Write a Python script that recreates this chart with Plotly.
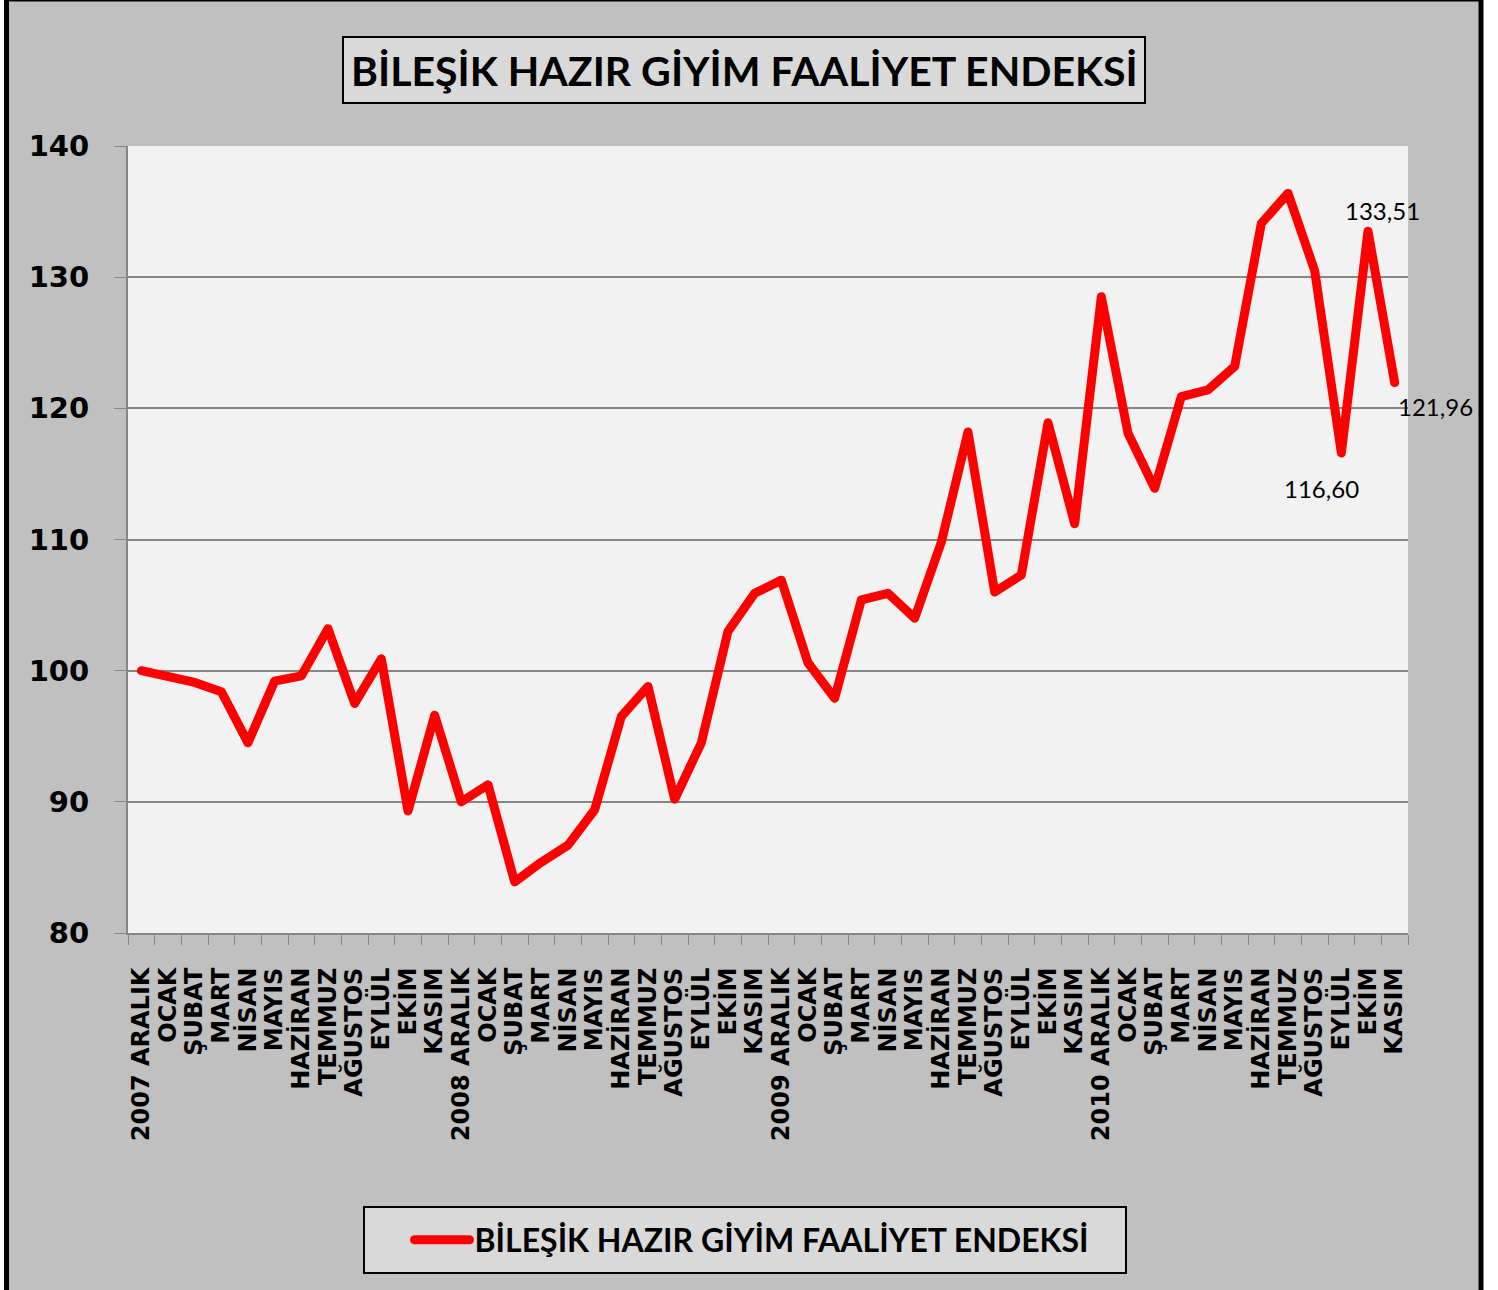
import plotly.graph_objects as go

# ---------------- data ----------------
months = ["ARALIK", "OCAK", "ŞUBAT", "MART", "NİSAN", "MAYIS", "HAZİRAN",
          "TEMMUZ", "AĞUSTOS", "EYLÜL", "EKİM", "KASIM"]
years = ["2007", "2008", "2009", "2010"]
tick_labels = []
for yr in years:
    for i, m in enumerate(months):
        tick_labels.append(f"{yr} {m}" if i == 0 else m)

values = [100.0, 99.6, 99.1, 98.4, 94.5, 99.2, 99.6, 103.2, 97.5, 100.9, 89.3, 96.6,
          90.0, 91.3, 83.9, 85.4, 86.7, 89.4, 96.5, 98.8, 90.2, 94.5, 103.0, 105.9,
          106.9, 100.6, 97.9, 105.4, 105.9, 104.0, 109.8, 118.2, 106.0, 107.3, 118.9, 111.2,
          128.5, 118.1, 113.9, 120.9, 121.4, 123.2, 134.1, 136.4, 130.5, 116.60, 133.51, 121.96]

series_name = "BİLEŞİK HAZIR GİYİM FAALİYET ENDEKSİ"
title_text = "BİLEŞİK HAZIR GİYİM FAALİYET ENDEKSİ"
y_ticks = [80, 90, 100, 110, 120, 130, 140]
labelled_points = [45, 46, 47]

# ---------------- layout geometry ----------------
W, H = 1498, 1290
L, R, T, B = 128, 1408, 146, 933
PW, PH = R - L, B - T


def px(x):
    return (x - L) / PW


def py(y):
    return (B - y) / PH


x_idx = list(range(len(values)))

fig = go.Figure()
fig.add_trace(go.Scatter(
    x=x_idx, y=values, mode="lines", name=series_name,
    line=dict(color="#ff0000", width=9),
    showlegend=True,
))

label_font = dict(family="Liberation Sans Narrow, Lato, Arial", size=24, color="#000000")
label_offsets = {45: (-20, -36), 46: (14, 21), 47: (41, -24)}
for i in labelled_points:
    dx, dy = label_offsets[i]
    fig.add_annotation(
        x=i, y=values[i], xref="x", yref="y",
        text=f"{values[i]:.2f}".replace(".", ","),
        showarrow=False, xshift=dx, yshift=dy, font=label_font,
    )

shapes = [
    # outer chart frame
    dict(type="rect", xref="paper", yref="paper",
         x0=px(6.5), x1=px(1481), y0=py(1300), y1=py(-1),
         fillcolor="#c0c0c0", line=dict(color="#000000", width=5), layer="below"),
    # plot area fill
    dict(type="rect", xref="paper", yref="paper", x0=0, x1=1, y0=0, y1=1,
         fillcolor="#f2f2f2", line=dict(width=0), layer="below"),
    # title box
    dict(type="rect", xref="paper", yref="paper",
         x0=px(343), x1=px(1145), y0=py(103), y1=py(37),
         fillcolor="#d9d9d9", line=dict(color="#000000", width=2), layer="below"),
    # legend box
    dict(type="rect", xref="paper", yref="paper",
         x0=px(364), x1=px(1126), y0=py(1273), y1=py(1207),
         fillcolor="#d9d9d9", line=dict(color="#000000", width=2), layer="below"),
]

fig.add_annotation(
    x=px(744), y=py(71), xref="paper", yref="paper", showarrow=False,
    text=title_text, xanchor="center", yanchor="middle",
    font=dict(family="Liberation Sans Narrow, Lato, Arial", size=41, color="#000000", weight="bold"),
)

fig.update_layout(
    width=W, height=H,
    margin=dict(l=L, r=W - R, t=T, b=H - B, pad=0),
    paper_bgcolor="#ffffff",
    plot_bgcolor="#f2f2f2",
    shapes=shapes,
    showlegend=True,
    legend=dict(
        x=px(752), y=py(1240), xanchor="center", yanchor="middle",
        bgcolor="rgba(0,0,0,0)", borderwidth=0, itemwidth=55,
        font=dict(family="Liberation Sans Narrow, Lato, Arial", size=32, color="#000000", weight="bold"),
    ),
    xaxis=dict(
        range=[-0.5, len(values) - 0.5],
        tickmode="array", tickvals=x_idx, ticktext=tick_labels,
        tickangle=-90, ticks="", showgrid=False, zeroline=False,
        showline=True, linecolor="#868686", linewidth=2,
        tickfont=dict(family="DejaVu Sans", size=24, color="#000000", weight="bold"),
        ticklabelstandoff=23,
        minor=dict(tickmode="linear", tick0=-0.5, dtick=1, ticks="outside",
                   ticklen=10, tickcolor="#868686", tickwidth=1, showgrid=False),
    ),
    yaxis=dict(
        range=[80, 140], tickmode="array", tickvals=y_ticks,
        ticks="outside", ticklen=12, tickcolor="#868686", tickwidth=1,
        showgrid=True, gridcolor="#868686", gridwidth=1.5, zeroline=False,
        showline=True, linecolor="#868686", linewidth=2,
        tickfont=dict(family="DejaVu Sans", size=29, color="#000000", weight="bold"),
        ticklabelstandoff=19,
    ),
)

fig.write_html(
    "out.html",
    config={"displayModeBar": False},
    post_script=(
        "document.body.style.margin='0';"
        "document.querySelectorAll('.js-line').forEach(function(e){"
        "e.style.strokeLinejoin='round';e.style.strokeLinecap='round';});"
    ),
)
